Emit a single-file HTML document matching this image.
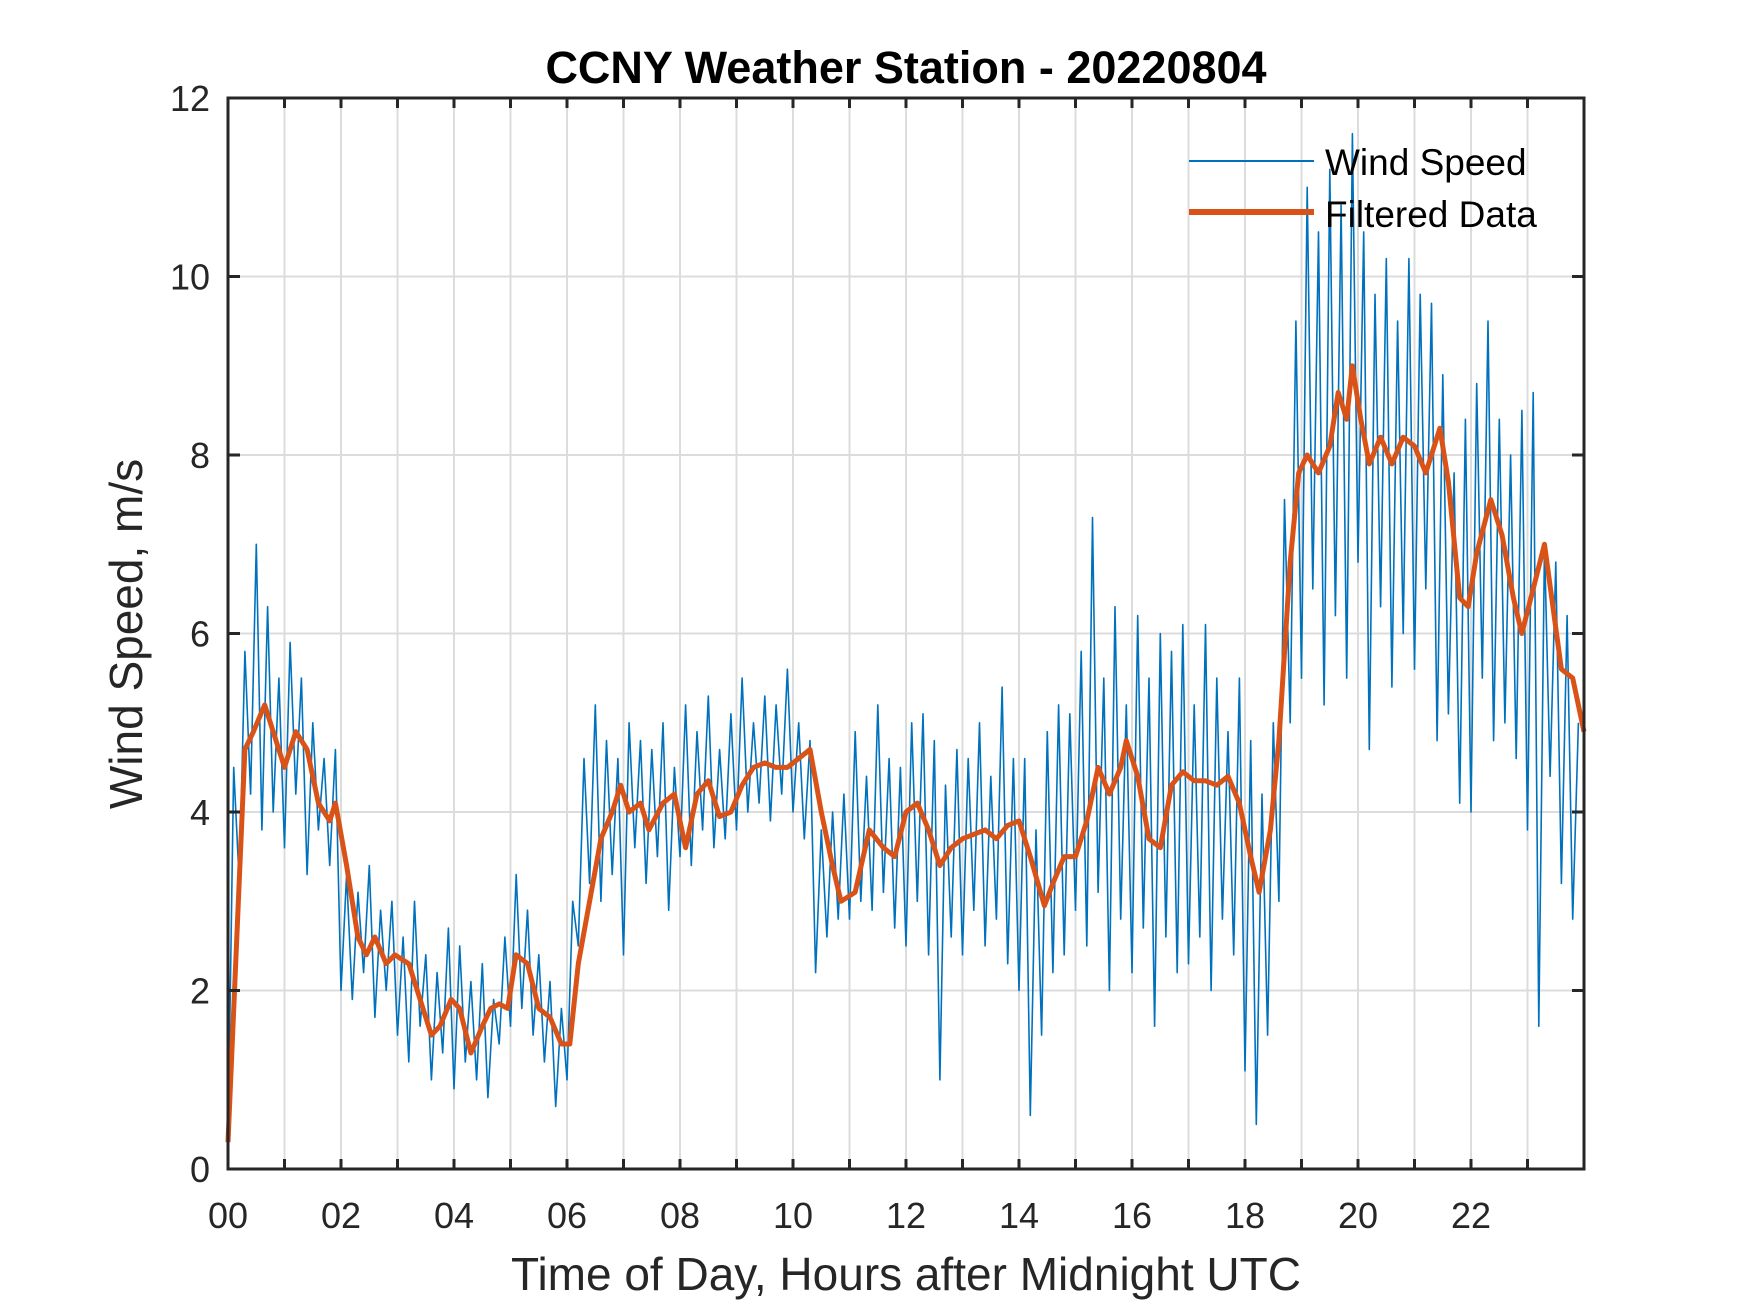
<!DOCTYPE html>
<html><head><meta charset="utf-8"><style>
html,body{margin:0;padding:0;background:#fff;}
svg{display:block;font-family:"Liberation Sans",Arial,sans-serif;}
</style></head><body>
<svg id="chart" width="1750" height="1313" viewBox="0 0 1750 1313" xmlns="http://www.w3.org/2000/svg">
<rect width="1750" height="1313" fill="#fff"/>
<g id="grid"></g>
<g id="series"></g>
<g id="axes"></g>
<text x="906" y="83" text-anchor="middle" font-size="45" font-weight="bold" fill="#000">CCNY Weather Station - 20220804</text>
<text x="906" y="1290" text-anchor="middle" font-size="46" fill="#262626">Time of Day, Hours after Midnight UTC</text>
<text transform="translate(142,634) rotate(-90)" text-anchor="middle" font-size="46" fill="#262626">Wind Speed, m/s</text>
<g>
<line x1="1189" y1="161" x2="1314" y2="161" stroke="#0072bd" stroke-width="2"/>
<text x="1325" y="175" font-size="37" fill="#000">Wind Speed</text>
<line x1="1189" y1="212" x2="1314" y2="212" stroke="#d95319" stroke-width="6"/>
<text x="1325" y="227" font-size="37" fill="#000">Filtered Data</text>
</g>
</svg>
<script>
const xTickValues=[0,2,4,6,8,10,12,14,16,18,20,22];
const xTickLabels=["00","02","04","06","08","10","12","14","16","18","20","22"];
const yTickValues=[0,2,4,6,8,10,12];
const yTickLabels=["0","2","4","6","8","10","12"];
const windStepHours=0.1;
const windValues=[
0.3,4.5,3.2,5.8,4.2,7.0,3.8,6.3,4.0,5.5,
3.6,5.9,4.2,5.5,3.3,5.0,3.8,4.6,3.4,4.7,
2.0,3.3,1.9,3.1,2.2,3.4,1.7,2.9,2.0,3.0,
1.5,2.6,1.2,3.0,1.6,2.4,1.0,2.2,1.3,2.7,
0.9,2.5,1.2,2.1,1.0,2.3,0.8,1.9,1.4,2.6,
1.6,3.3,1.8,2.9,1.5,2.4,1.2,2.1,0.7,1.8,
1.0,3.0,2.5,4.6,3.2,5.2,3.0,4.8,3.3,4.6,
2.4,5.0,3.6,4.8,3.2,4.7,3.5,5.0,2.9,4.5,
3.5,5.2,3.4,4.9,3.8,5.3,3.6,4.7,3.7,5.1,
3.8,5.5,4.0,5.0,4.1,5.3,3.9,5.2,4.2,5.6,
4.0,5.0,3.7,4.8,2.2,3.8,2.6,4.0,2.8,4.2,
2.8,4.9,3.0,4.4,2.9,5.2,3.1,4.6,2.7,4.5,
2.5,5.0,3.0,5.1,2.4,4.8,1.0,4.3,2.6,4.7,
2.4,4.6,2.9,5.0,2.5,4.4,2.8,5.4,2.3,4.6,
2.0,4.6,0.6,3.8,1.5,4.9,2.2,5.2,2.4,5.1,
2.9,5.8,2.5,7.3,3.1,5.5,2.0,6.3,2.8,5.2,
2.2,6.2,2.7,5.5,1.6,6.0,2.6,5.8,2.2,6.1,
2.3,5.2,2.6,6.1,2.0,5.5,2.8,4.9,2.4,5.5,
1.1,4.8,0.5,4.2,1.5,5.0,3.0,7.5,5.0,9.5,
5.5,11.0,6.5,10.5,5.2,11.2,6.2,10.8,5.5,11.6,
6.8,10.5,4.7,9.8,6.3,10.2,5.4,9.5,6.0,10.2,
5.6,9.8,6.5,9.7,4.8,8.9,5.1,7.8,4.1,8.4,
4.0,8.8,5.5,9.5,4.8,8.4,5.0,8.0,4.6,8.5,
3.8,8.7,1.6,7.0,4.4,6.8,3.2,6.2,2.8,5.0];
const filtTimes=[0,0.3,0.45,0.65,0.8,1.0,1.2,1.4,1.6,1.8,1.9,2.1,2.3,2.45,2.6,2.8,2.95,3.2,3.4,3.6,3.75,3.95,4.1,4.3,4.5,4.65,4.8,4.95,5.1,5.3,5.5,5.7,5.9,6.05,6.2,6.4,6.6,6.8,6.95,7.1,7.3,7.45,7.7,7.9,8.1,8.3,8.5,8.7,8.9,9.1,9.3,9.5,9.7,9.9,10.1,10.3,10.5,10.7,10.85,11.1,11.35,11.6,11.8,12.0,12.2,12.4,12.6,12.8,13.0,13.2,13.4,13.6,13.8,14.0,14.2,14.45,14.6,14.8,15.0,15.2,15.4,15.6,15.8,15.9,16.1,16.3,16.5,16.7,16.9,17.1,17.3,17.5,17.7,17.9,18.1,18.25,18.45,18.6,18.8,18.95,19.1,19.3,19.5,19.65,19.8,19.9,20.05,20.2,20.4,20.6,20.8,21.0,21.2,21.45,21.6,21.8,21.95,22.1,22.35,22.55,22.75,22.9,23.1,23.3,23.45,23.6,23.8,24];
const filtValues=[0.3,4.7,4.9,5.2,4.9,4.5,4.9,4.7,4.1,3.9,4.1,3.4,2.6,2.4,2.6,2.3,2.4,2.3,1.9,1.5,1.6,1.9,1.8,1.3,1.6,1.8,1.85,1.8,2.4,2.3,1.8,1.7,1.4,1.4,2.3,3.0,3.7,4.0,4.3,4.0,4.1,3.8,4.1,4.2,3.6,4.2,4.35,3.95,4.0,4.3,4.5,4.55,4.5,4.5,4.6,4.7,4.0,3.4,3.0,3.1,3.8,3.6,3.5,4.0,4.1,3.8,3.4,3.6,3.7,3.75,3.8,3.7,3.85,3.9,3.5,2.95,3.2,3.5,3.5,3.9,4.5,4.2,4.5,4.8,4.4,3.7,3.6,4.3,4.45,4.35,4.35,4.3,4.4,4.1,3.5,3.1,3.8,4.8,6.8,7.8,8.0,7.8,8.1,8.7,8.4,9.0,8.4,7.9,8.2,7.9,8.2,8.1,7.8,8.3,7.7,6.4,6.3,6.9,7.5,7.1,6.4,6.0,6.5,7.0,6.3,5.6,5.5,4.9];

const L=228,R=1584,T=98,B=1169;
const xMin=0,xMax=24,yMin=0,yMax=12;
const sx=v=>L+(v-xMin)/(xMax-xMin)*(R-L);
const sy=v=>B-(v-yMin)/(yMax-yMin)*(B-T);
const NS="http://www.w3.org/2000/svg";
function mk(tag,attrs,parent){const e=document.createElementNS(NS,tag);for(const k in attrs)e.setAttribute(k,attrs[k]);parent.appendChild(e);return e;}
const grid=document.getElementById('grid'),series=document.getElementById('series'),axes=document.getElementById('axes');
for(let h=1;h<24;h++){
  const g=mk('line',{x1:sx(h),x2:sx(h),y1:T,y2:B,stroke:'#dcdcdc','stroke-width':2},grid);
  
  
  for(const [a,b] of [[B,B-10],[T,T+10]]){
    const t=mk('line',{x1:sx(h),x2:sx(h),y1:a,y2:b,stroke:'#262626','stroke-width':3},axes);
    
    
  }
}
yTickValues.forEach((v,i)=>{
  if(v>yMin&&v<yMax){
    const g=mk('line',{x1:L,x2:R,y1:sy(v),y2:sy(v),stroke:'#dcdcdc','stroke-width':2},grid);
    
    
    for(const [a,b] of [[L,L+12],[R,R-12]]){
      const t=mk('line',{x1:a,x2:b,y1:sy(v),y2:sy(v),stroke:'#262626','stroke-width':3},axes);
      
      
    }
  }
  const tx=mk('text',{x:L-18,y:sy(v)+13,'text-anchor':'end','font-size':36,fill:'#262626'},axes);
  tx.textContent=yTickLabels[i];
  
  
});
xTickValues.forEach((v,i)=>{
  const tx=mk('text',{x:sx(v),y:1228,'text-anchor':'middle','font-size':36,fill:'#262626'},axes);
  tx.textContent=xTickLabels[i];
  
  
});
const box=mk('rect',{x:L,y:T,width:R-L,height:B-T,fill:'none',stroke:'#262626','stroke-width':3},axes);


const wp=windValues.map((v,i)=>sx(Math.min(i*windStepHours,23.99)).toFixed(1)+','+sy(v).toFixed(1)).join(' ');
const w=mk('polyline',{points:wp,fill:'none',stroke:'#0072bd','stroke-width':1.6,'stroke-linejoin':'round'},series);


const fp=filtTimes.map((t,i)=>sx(t).toFixed(1)+','+sy(filtValues[i]).toFixed(1)).join(' ');
const f=mk('polyline',{points:fp,fill:'none',stroke:'#d95319','stroke-width':5,'stroke-linejoin':'round'},series);


</script>
</body></html>
